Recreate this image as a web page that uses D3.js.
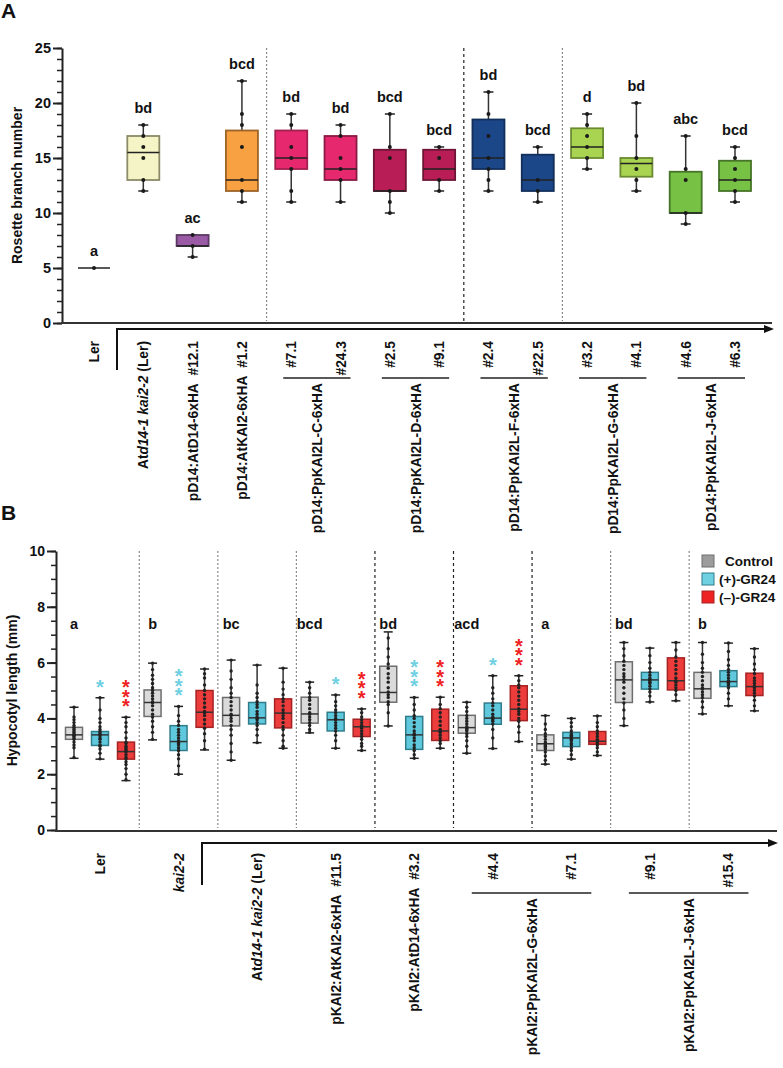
<!DOCTYPE html>
<html><head><meta charset="utf-8">
<script src="https://cdn.jsdelivr.net/npm/d3@7"></script>
<style>
body{margin:0;background:#fff}
svg{display:block}
text{font-family:"Liberation Sans",Arial,Helvetica,sans-serif;font-weight:bold;fill:#111}
</style>
</head><body>
<svg id="c" width="783" height="1068"></svg>
<script>
// ---------------- Panel A data ----------------
const catsA = ["Ler","Atd14-1 kai2-2 (Ler)","pD14:AtD14-6xHA  #12.1","pD14:AtKAI2-6xHA  #1.2",
  "#7.1","#24.3","#2.5","#9.1","#2.4","#22.5","#3.2","#4.1","#4.6","#6.3"];
const groupsA = [
  {name:"pD14:PpKAI2L-C-6xHA", from:4, to:5},
  {name:"pD14:PpKAI2L-D-6xHA", from:6, to:7},
  {name:"pD14:PpKAI2L-F-6xHA", from:8, to:9},
  {name:"pD14:PpKAI2L-G-6xHA", from:10, to:11},
  {name:"pD14:PpKAI2L-J-6xHA", from:12, to:13}
];
const minA = [5,12,6,11,11,11,10,12,12,11,14,12,9,11];
const q1A  = [5,13,7,12,14,13,12,13,14,12,15,13.3,10,12];
const medA = [5,15.5,7,13,15,14,12,14,15,13,16,14.5,10,13];
const q3A  = [5,17,8,17.5,17.5,17,15.75,15.75,18.5,15.3,17.7,15,13.75,14.75];
const maxA = [5,18,8,22,19,18,19,16,21,16,19,20,17,16];
const dotsA = [
  [5],[12,13,15,16,17,18],[6,7,8],[11,12,13,16,18,19,22],[11,12,14,15,16,18,19],
  [11,13,14,15,17,18],[10,11,12,15,16,19],[12,13,15,16],[12,13,14,15,17,19,21],
  [11,12,13,16],[14,15,16,17,18,19],[12,13,14,15,17,20],[9,10,13,14,17],[11,12,13,14,15,16]
];
const lettersA = ["a","bd","ac","bcd","bd","bd","bcd","bcd","bd","bcd","d","bd","abc","bcd"];
const ticksA = [0,5,10,15,20,25];

// ---------------- Panel B data ----------------
const genotypesB = ["Ler","kai2-2","Atd14-1 kai2-2 (Ler)","pKAI2:AtKAI2-6xHA  #11.5",
  "pKAI2:AtD14-6xHA  #3.2","#4.4","#7.1","#9.1","#15.4"];
const groupsB = [
  {name:"pKAI2:PpKAI2L-G-6xHA", from:5, to:6},
  {name:"pKAI2:PpKAI2L-J-6xHA", from:7, to:8}
];
const treatmentsB = ["Control","(+)-GR24","(\u2013)-GR24"];
// [min, q1, median, q3, max]
const statsCtrl = [[2.57,3.25,3.41,3.68,4.40],[3.23,4.07,4.57,5.02,5.98],[2.5,3.73,4.11,4.75,6.09],
  [3.48,3.83,4.16,4.76,5.3],[3.73,4.58,4.93,5.87,7.1],[2.75,3.47,3.67,4.11,4.58],
  [2.36,2.85,3.09,3.41,4.1],[3.74,4.57,5.38,6.03,6.72],[4.16,4.72,5.06,5.65,6.72]];
const statsPlus = [[2.54,3.03,3.41,3.53,4.74],[2.0,2.85,3.17,3.74,4.43],[3.13,3.8,4.02,4.57,5.91],
  [2.93,3.55,3.95,4.22,4.84],[2.57,2.89,3.41,4.07,4.75],[2.92,3.79,4.01,4.55,5.53],
  [2.54,2.99,3.3,3.5,4.0],[4.59,5.05,5.38,5.65,6.52],[4.45,5.14,5.32,5.71,6.7]];
const statsMinus = [[1.77,2.54,2.81,3.15,4.04],[2.87,3.68,4.22,5.0,5.77],[2.93,3.66,4.19,4.7,5.8],
  [2.85,3.35,3.7,3.97,4.34],[2.93,3.21,3.55,4.33,4.76],[3.17,3.92,4.33,5.17,5.53],
  [2.67,3.07,3.18,3.53,4.09],[4.63,5.02,5.35,6.17,6.72],[4.27,4.82,5.14,5.62,6.5]];
const dotsCtrl = [
  [2.6,2.95,3.05,3.15,3.25,3.3,3.35,3.4,3.42,3.48,3.52,3.58,3.62,3.68,3.75,3.85,3.95,4.05,4.4],
  [3.25,3.5,3.7,3.9,4.05,4.15,4.3,4.45,4.55,4.6,4.7,4.8,4.9,5.0,5.1,5.25,5.4,5.55,5.75,5.98],
  [2.5,2.8,3.1,3.4,3.6,3.75,3.9,4.0,4.1,4.15,4.3,4.45,4.6,4.75,4.9,5.1,5.4,5.7,6.09],
  [3.5,3.6,3.75,3.85,3.95,4.05,4.15,4.2,4.35,4.5,4.65,4.75,4.9,5.1,5.3],
  [3.73,4.2,4.5,4.6,4.75,4.85,4.95,5.1,5.3,5.45,5.6,5.8,5.95,6.2,6.5,6.88],
  [2.75,3.0,3.2,3.35,3.45,3.55,3.6,3.65,3.7,3.8,3.9,4.0,4.1,4.25,4.4,4.58],
  [2.36,2.5,2.65,2.8,2.9,2.95,3.0,3.05,3.1,3.15,3.25,3.35,3.45,3.6,3.8,4.1],
  [3.74,4.0,4.3,4.55,4.7,4.9,5.1,5.3,5.4,5.5,5.6,5.75,5.9,6.05,6.25,6.5,6.72],
  [4.16,4.4,4.6,4.75,4.85,4.95,5.05,5.1,5.2,5.35,5.5,5.65,5.8,6.0,6.3,6.72]];
const dotsPlus = [
  [2.55,2.75,2.9,3.0,3.05,3.15,3.25,3.3,3.38,3.42,3.48,3.52,3.6,3.7,3.85,4.0,4.3,4.74],
  [2.0,2.3,2.55,2.7,2.85,2.95,3.05,3.1,3.15,3.2,3.3,3.4,3.5,3.6,3.75,3.9,4.1,4.43],
  [3.13,3.4,3.6,3.75,3.85,3.95,4.0,4.05,4.15,4.25,4.4,4.5,4.6,4.75,4.9,5.2,5.91],
  [2.93,3.2,3.4,3.55,3.65,3.75,3.85,3.95,4.0,4.1,4.2,4.3,4.45,4.6,4.84],
  [2.57,2.7,2.85,2.95,3.05,3.2,3.3,3.4,3.45,3.55,3.7,3.85,4.0,4.1,4.3,4.5,4.75],
  [2.92,3.3,3.6,3.8,3.9,3.95,4.0,4.05,4.15,4.3,4.45,4.55,4.7,4.9,5.1,5.53],
  [2.54,2.7,2.85,2.95,3.05,3.1,3.2,3.25,3.3,3.35,3.4,3.45,3.55,3.7,3.85,4.0],
  [4.59,4.8,4.95,5.05,5.15,5.25,5.3,5.35,5.4,5.45,5.55,5.65,5.8,6.0,6.25,6.52],
  [4.45,4.7,4.9,5.1,5.2,5.25,5.3,5.35,5.45,5.55,5.65,5.75,5.9,6.1,6.4,6.7]];
const dotsMinus = [
  [1.8,2.0,2.2,2.35,2.45,2.55,2.6,2.7,2.8,2.85,2.9,2.95,3.0,3.1,3.15,3.3,3.5,3.7,3.85,4.04],
  [2.9,3.2,3.45,3.65,3.8,3.95,4.1,4.2,4.25,4.4,4.55,4.7,4.85,5.0,5.2,5.45,5.6,5.77],
  [2.93,3.0,3.2,3.4,3.6,3.7,3.85,4.0,4.1,4.2,4.3,4.45,4.6,4.7,4.85,5.05,5.3,5.8],
  [2.85,3.0,3.1,3.25,3.35,3.45,3.55,3.65,3.7,3.75,3.85,3.95,4.05,4.2,4.34],
  [2.93,3.1,3.2,3.3,3.4,3.5,3.55,3.6,3.75,3.9,4.05,4.2,4.35,4.5,4.76],
  [3.17,3.5,3.7,3.9,4.0,4.15,4.25,4.35,4.5,4.65,4.8,4.95,5.1,5.2,5.35,5.53],
  [2.67,2.8,2.95,3.05,3.1,3.15,3.2,3.25,3.35,3.45,3.55,3.7,3.85,4.09],
  [4.63,4.85,5.0,5.1,5.2,5.3,5.35,5.45,5.6,5.75,5.9,6.05,6.2,6.45,6.72],
  [4.27,4.45,4.65,4.8,4.9,5.0,5.1,5.15,5.25,5.35,5.45,5.6,5.75,5.95,6.2,6.5]];
const starsPlus  = [1,3,0,1,3,1,0,0,0];
const starsMinus = [3,0,0,3,3,3,0,0,0];
const lettersB = ["a","b","bc","bcd","bd","acd","a","bd","b"];
const ticksB = [0,2,4,6,8,10];

// ---------------- styles ----------------
const fillA   = ["#222","#f4f4c6","#9a5aa6","#f7a142","#e6296f","#e6296f","#b81e55","#b81e55",
                 "#1b4687","#1b4687","#a9d451","#a9d451","#77c144","#77c144"];
const strokeA = ["#222","#8b8b68","#5b3a63","#9c6428","#a0204e","#8a1a44","#6e1535","#6e1535",
                 "#122f5c","#122f5c","#6b8b32","#6b8b32","#46752a","#46752a"];
const fillB   = ["#dadada","#5fc8dc","#ec3c3c"];
const strokeB = ["#6e6e6e","#2f7d8c","#a62323"];
const legendFill = ["#9c9c9c","#6fd0e1","#ee2222"];
const starColor = ["#6fd0e1","#ee2222"];
const labelSize = 13.8;

const svg = d3.select("#c");

function richText(sel, str){
  const parts = str.replace(/  /g,"\u00a0\u00a0").split(/(d14-1|kai2-2)/);
  parts.forEach(p => { if(p.length) sel.append("tspan").attr("font-style", /^(d14-1|kai2-2)$/.test(p)?"italic":"normal").text(p); });
}
function vLabel(g, x, y, str, size){
  const t = g.append("text").attr("transform",`translate(${x},${y}) rotate(-90)`)
    .attr("text-anchor","end").attr("dominant-baseline","central")
    .attr("font-size", size);
  richText(t, str);
  return t;
}

// ================= PANEL A =================
const gA = svg.append("g");
const yA = d3.scaleLinear().domain([0,25]).range([323,48]);
const xA = d3.scalePoint().domain(d3.range(catsA.length)).range([94,735]);
const bwA = 32;

gA.append("text").attr("x",1).attr("y",18).attr("font-size",21).text("A");

[[3,"#8a8a8a","2,2"],[7,"#222","3,3"],[9,"#8a8a8a","2,2"]].forEach(([i,c,d])=>{
  const x = (xA(i)+xA(i+1))/2;
  gA.append("line").attr("x1",x).attr("x2",x).attr("y1",yA(25)).attr("y2",yA(0)-2)
    .attr("stroke",c).attr("stroke-width",1.2).attr("stroke-dasharray",d);
});

const axA = gA.append("g").attr("transform","translate(62,0)");
axA.append("g").call(d3.axisLeft(yA).tickValues(d3.range(0,26)).tickSize(5).tickFormat("").tickSizeOuter(0))
  .call(s=>{s.select(".domain").remove(); s.selectAll("line").attr("stroke","#222").attr("stroke-width",1.5);});
axA.append("g").call(d3.axisLeft(yA).tickValues(ticksA).tickSize(9).tickPadding(2).tickSizeOuter(0))
  .call(s=>{s.select(".domain").attr("stroke","#222").attr("stroke-width",2);
    s.selectAll("line").attr("stroke","#222").attr("stroke-width",2);
    s.selectAll("text").attr("font-size",14.5).attr("font-family","Liberation Sans, Arial").attr("font-weight","bold").attr("fill","#111");});
gA.append("line").attr("x1",61).attr("x2",772).attr("y1",yA(0)).attr("y2",yA(0)).attr("stroke","#333").attr("stroke-width",2);
gA.append("text").attr("transform",`translate(17,${(yA(0)+yA(25))/2}) rotate(-90)`)
  .attr("text-anchor","middle").attr("dominant-baseline","central").attr("font-size",14).text("Rosette branch number");

catsA.forEach((c,i)=>{
  const x = xA(i), g = gA.append("g");
  if(maxA[i] > minA[i]){
    g.append("line").attr("x1",x).attr("x2",x).attr("y1",yA(maxA[i])).attr("y2",yA(minA[i])).attr("stroke","#333").attr("stroke-width",1.5);
    [minA[i],maxA[i]].forEach(v=>g.append("line").attr("x1",x-5).attr("x2",x+5).attr("y1",yA(v)).attr("y2",yA(v)).attr("stroke","#222").attr("stroke-width",1.5));
  }
  if(q3A[i] > q1A[i]){
    g.append("rect").attr("x",x-bwA/2).attr("width",bwA).attr("y",yA(q3A[i])).attr("height",yA(q1A[i])-yA(q3A[i]))
      .attr("fill",fillA[i]).attr("stroke",strokeA[i]).attr("stroke-width",1.8);
  }
  g.append("line").attr("x1",x-bwA/2).attr("x2",x+bwA/2).attr("y1",yA(medA[i])).attr("y2",yA(medA[i]))
    .attr("stroke","#222").attr("stroke-width",1.5);
  g.selectAll("circle").data(dotsA[i]).join("circle").attr("cx",x).attr("cy",d=>yA(d)).attr("r",2).attr("fill","#1a1a1a");
  g.append("text").attr("x",x).attr("y",yA(maxA[i])-12).attr("text-anchor","middle").attr("font-size",14.5).text(lettersA[i]);
});

gA.append("path").attr("d","M117,370 V329 H766").attr("fill","none").attr("stroke","#111").attr("stroke-width",2);
gA.append("path").attr("d","M764,325 L774,329 L764,333 Z").attr("fill","#111");

catsA.forEach((c,i)=>{ vLabel(gA, xA(i), 341, c, labelSize); });
groupsA.forEach(gr=>{
  const x1 = xA(gr.from)-8, x2 = xA(gr.to)+10;
  gA.append("line").attr("x1",x1).attr("x2",x2).attr("y1",378).attr("y2",378).attr("stroke","#222").attr("stroke-width",1.5);
  vLabel(gA,(x1+x2)/2,383,gr.name,labelSize);
});

// ================= PANEL B =================
const gB = svg.append("g");
const yB = d3.scaleLinear().domain([0,10]).range([830,551]);
const xG = d3.scaleBand().domain(d3.range(genotypesB.length)).range([59,766]).paddingInner(0).paddingOuter(0);
const xT = d3.scalePoint().domain(d3.range(3)).range([15,67]);
const bwB = 17;
const statsB = [statsCtrl, statsPlus, statsMinus];
const dotsB = [dotsCtrl, dotsPlus, dotsMinus];
const starsB = [null, starsPlus, starsMinus];
const bx = (g,t) => xG(g)+xT(t);

gB.append("text").attr("x",1).attr("y",520).attr("font-size",21).text("B");

const sepStyle = ["g","g","g","k","k","k","g","g"];
sepStyle.forEach((s,k)=>{
  const x = (bx(k,2)+bx(k+1,0))/2;
  gB.append("line").attr("x1",x).attr("x2",x).attr("y1",yB(10)).attr("y2",yB(0)-2)
    .attr("stroke", s==="g"?"#8a8a8a":"#222").attr("stroke-width",1.2).attr("stroke-dasharray", s==="g"?"2,2":"3,3");
});

const axB = gB.append("g").attr("transform","translate(56,0)");
axB.append("g").call(d3.axisLeft(yB).tickValues(d3.range(0,10.01,0.5)).tickSize(5).tickFormat("").tickSizeOuter(0))
  .call(s=>{s.select(".domain").remove(); s.selectAll("line").attr("stroke","#222").attr("stroke-width",1.5);});
axB.append("g").call(d3.axisLeft(yB).tickValues(ticksB).tickSize(9).tickPadding(2).tickSizeOuter(0))
  .call(s=>{s.select(".domain").attr("stroke","#222").attr("stroke-width",2);
    s.selectAll("line").attr("stroke","#222").attr("stroke-width",2);
    s.selectAll("text").attr("font-size",14).attr("font-family","Liberation Sans, Arial").attr("font-weight","bold").attr("fill","#111");});
gB.append("line").attr("x1",55).attr("x2",777).attr("y1",yB(0)+1).attr("y2",yB(0)+1).attr("stroke","#333").attr("stroke-width",2);
gB.append("text").attr("transform",`translate(12,${(yB(0)+yB(10))/2}) rotate(-90)`)
  .attr("text-anchor","middle").attr("dominant-baseline","central").attr("font-size",14).text("Hypocotyl length (mm)");

genotypesB.forEach((gn,k)=>{
  treatmentsB.forEach((tr,t)=>{
    const [mn,q1,md,q3,mx] = statsB[t][k];
    const x = bx(k,t), g = gB.append("g");
    g.append("line").attr("x1",x).attr("x2",x).attr("y1",yB(mx)).attr("y2",yB(mn)).attr("stroke","#333").attr("stroke-width",1.5);
    [mn,mx].forEach(v=>g.append("line").attr("x1",x-4.5).attr("x2",x+4.5).attr("y1",yB(v)).attr("y2",yB(v)).attr("stroke","#222").attr("stroke-width",1.5));
    g.append("rect").attr("x",x-bwB/2).attr("width",bwB).attr("y",yB(q3)).attr("height",yB(q1)-yB(q3))
      .attr("fill",fillB[t]).attr("stroke",strokeB[t]).attr("stroke-width",1.5);
    g.append("line").attr("x1",x-bwB/2).attr("x2",x+bwB/2).attr("y1",yB(md)).attr("y2",yB(md)).attr("stroke","#333").attr("stroke-width",1.5);
    g.selectAll("circle").data(dotsB[t][k]).join("circle").attr("cx",x).attr("cy",d=>yB(d)).attr("r",1.7).attr("fill","#222");
    if(t>0 && starsB[t][k]>0){
      const n = starsB[t][k];
      const xs = [], ys = [];
      for(let s=0;s<n;s++){ xs.push(x); ys.push(yB(mx)-14-(n-1-s)*9.6+10); }
      // single text element, one glyph per stacked position
      g.append("text").attr("x",xs.join(" ")).attr("y",ys.join(" "))
        .attr("text-anchor","middle").attr("font-size",20)
        .style("fill",starColor[t-1]).text("*".repeat(n));
    }
  });
  gB.append("text").attr("x",bx(k,0)).attr("y",629).attr("text-anchor","middle").attr("font-size",14.5).text(lettersB[k]);
});

treatmentsB.forEach((tr,t)=>{
  const cy = 561 + t*18;
  gB.append("rect").attr("x",702).attr("y",cy-6).attr("width",12).attr("height",12)
    .attr("fill",legendFill[t]).attr("stroke",strokeB[t]).attr("stroke-width",1);
  gB.append("text").attr("x", t===0?725:719).attr("y",cy).attr("dominant-baseline","central").attr("font-size",13.5).text(tr);
});

gB.append("path").attr("d","M202,885 V843 H770").attr("fill","none").attr("stroke","#111").attr("stroke-width",2);
gB.append("path").attr("d","M768,839 L778,843 L768,847 Z").attr("fill","#111");

genotypesB.forEach((gn,k)=>{ vLabel(gB, bx(k,1), 853, gn, labelSize); });
groupsB.forEach(gr=>{
  const x1 = bx(gr.from,1)-21, x2 = bx(gr.to,1)+20;
  gB.append("line").attr("x1",x1).attr("x2",x2).attr("y1",893).attr("y2",893).attr("stroke","#222").attr("stroke-width",1.5);
  vLabel(gB,(x1+x2)/2,898,gr.name,labelSize);
});
</script>
</body></html>
